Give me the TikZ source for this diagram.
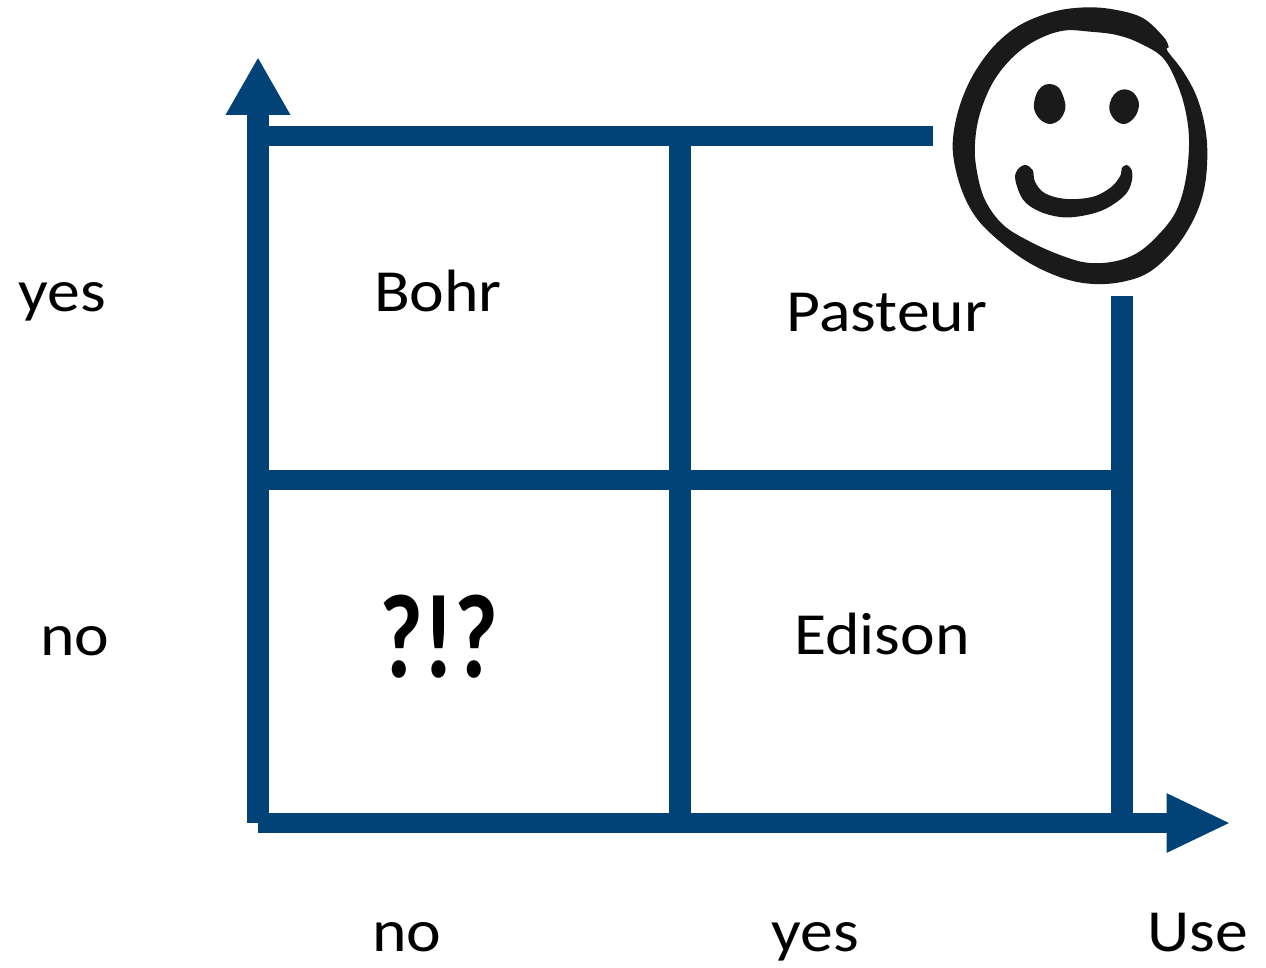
\documentclass[tikz,border=0pt]{standalone}
\usepackage{fontspec}
\setmainfont{Carlito}
\usepackage{xcolor}
\usetikzlibrary{arrows.meta}
\definecolor{barblue}{HTML}{014277}
\definecolor{inkblack}{HTML}{1A1A1A}
\tikzset{
  hbar/.style ={draw=barblue, line width=4mm},
  vbar/.style ={draw=barblue, line width=4.3mm},
  axup/.style ={-{Triangle[length=11.6mm, width=12.1mm]}},
  axrt/.style ={-{Triangle[length=12.9mm, width=10.9mm]}},
  lbl/.style  ={anchor=base, inner sep=0pt, xscale=1.1, font=\fontsize{34}{40}\selectfont},
  ink/.style  ={fill=inkblack, draw=none},
}

\begin{document}
\begin{tikzpicture}[x=0.02cm, y=-0.02cm]
  \useasboundingbox (0,0) rectangle (1266,967);
  % grid corners
  \coordinate (origin) at (258,823);
  \coordinate (topend) at (258,57);
  \coordinate (rightend) at (1231,823);
  \coordinate (topleft) at (258,136);
  \coordinate (topright) at (933,136);
  \coordinate (midtop) at (680,136);
  \coordinate (midbot) at (680,823);
  \coordinate (midleft) at (258,480);
  \coordinate (midright) at (1122,480);
  \coordinate (sidetop) at (1122,296);
  \coordinate (sidebot) at (1122,823);
  \draw[hbar] (topleft)--(topright);
  \draw[hbar] (midleft)--(midright);
  \draw[vbar] (midtop)--(midbot);
  \draw[vbar] (sidetop)--(sidebot);
  \draw[vbar, axup] (origin)--(topend);
  \draw[hbar, axrt] (origin)--(rightend);
  % labels
  \node[lbl] (bohr) at (438,311) {Bohr};
  \node[lbl] (pasteur) at (887,331) {Pasteur};
  \node[lbl] (edison) at (882,654) {Edison};
  \node[lbl, font=\bfseries\fontsize{68}{72}\selectfont, xscale=0.72] (what) at (439,677) {?!?};
  \node[lbl] (yesleft) at (62,311) {yes};
  \node[lbl] (noleft) at (75,655) {no};
  \node[lbl] (nobot) at (407,951) {no};
  \node[lbl] (yesbot) at (815,951) {yes};
  \node[lbl] (use) at (1198,951) {Use};
  % smiley
  \begin{scope}[shift={(930,0)}, scale=0.3333]
    \fill[ink, even odd rule]
      plot[smooth cycle, tension=0.6] coordinates {(470,22) (560,30) (640,55) (700,110) (716,140) (712,152) (760,215) (800,290) (825,380) (832,470) (822,570) (790,660) (735,745) (660,815) (580,845) (490,852) (400,835) (300,790) (210,725) (140,655) (95,570) (70,470) (72,390) (95,300) (135,215) (195,135) (270,75) (370,35)}
      plot[smooth cycle, tension=0.6] coordinates {(480,95) (560,105) (630,130) (700,175) (745,260) (770,350) (777,440) (765,550) (735,640) (680,710) (620,760) (550,785) (470,788) (390,765) (300,725) (220,675) (165,600) (140,510) (135,430) (150,340) (190,245) (250,170) (320,120) (400,92)};
    \fill[ink] plot[smooth cycle, tension=0.6] coordinates {(358,252) (385,262) (400,290) (406,325) (390,358) (360,372) (330,358) (312,325) (318,285) (335,260)};
    \fill[ink] plot[smooth cycle, tension=0.6] coordinates {(585,268) (612,280) (627,312) (615,350) (585,372) (555,360) (538,328) (545,295) (562,275)};
    \fill[ink] plot[smooth cycle, tension=0.6] coordinates {(256,540) (262,510) (285,495) (308,510) (315,545) (345,580) (410,597) (490,590) (545,560) (572,525) (575,505) (590,495) (605,510) (605,545) (585,585) (530,625) (470,645) (400,652) (330,635) (280,600)};
  \end{scope}
\end{tikzpicture}
\end{document}
